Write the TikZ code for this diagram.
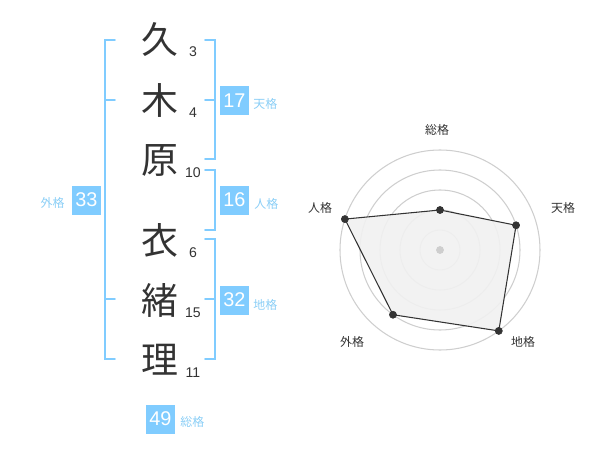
\documentclass[tikz,border=0pt]{standalone}
\usepackage{fontspec}
\setmainfont{Liberation Sans}
\newfontfamily\jpfont{Noto Sans CJK JP}
\usepackage{tkz-euclide}
\definecolor{BoxClr}{RGB}{128,204,255}
\definecolor{TagClr}{RGB}{138,206,246}
\definecolor{InkClr}{RGB}{51,51,51}
\definecolor{RingClr}{RGB}{206,206,206}
\definecolor{AreaClr}{RGB}{241,241,241}
\tikzset{
  kanji/.style={anchor=center,text=InkClr,inner sep=0pt,font=\jpfont\fontsize{21}{24}\selectfont},
  strokes/.style={anchor=center,text=InkClr,inner sep=0pt,font=\fontsize{8}{9}\selectfont},
  tag/.style={anchor=center,fill=BoxClr,text=white,inner sep=0pt,minimum size=.58cm,font=\fontsize{11.3}{12}\selectfont},
  tagname/.style={text=TagClr,inner sep=0pt,font=\jpfont\fontsize{6.8}{8}\selectfont},
  axisname/.style={anchor=center,text=InkClr,inner sep=0pt,font=\jpfont\fontsize{6.8}{8}\selectfont}
}

\begin{document}
\begin{tikzpicture}
\useasboundingbox (0,0) rectangle (12,9.4);
\tkzSetUpLine[line width=1.1pt,color=BoxClr]

% name and stroke counts
\tkzDefPoints{3.2/8.6/K1,3.2/7.4/K2,3.2/6.2/K3,3.2/4.6/K4,3.2/3.4/K5,3.2/2.2/K6}
\tkzDefPoints{3.86/8.36/N1,3.86/7.14/N2,3.86/5.94/N3,3.86/4.34/N4,3.86/3.14/N5,3.86/1.94/N6}

\tkzLabelPoint[kanji](K1){久}
\tkzLabelPoint[kanji](K2){木}
\tkzLabelPoint[kanji](K3){原}
\tkzLabelPoint[kanji](K4){衣}
\tkzLabelPoint[kanji](K5){緒}
\tkzLabelPoint[kanji](K6){理}

\tkzLabelPoint[strokes](N1){3}
\tkzLabelPoint[strokes](N2){4}
\tkzLabelPoint[strokes](N3){10}
\tkzLabelPoint[strokes](N4){6}
\tkzLabelPoint[strokes](N5){15}
\tkzLabelPoint[strokes](N6){11}

% brackets
\tkzDefPoints{2.3/8.6/A1,2.1/8.6/A2,2.1/2.22/A3,2.3/2.22/A4,2.1/7.4/A5,2.3/7.4/A6,2.1/3.42/A7,2.3/3.42/A8}
\tkzDefPoints{4.1/8.6/B1,4.3/8.6/B2,4.3/6.22/B3,4.1/6.22/B4,4.1/7.4/B5,4.3/7.4/B6}
\tkzDefPoints{4.1/6.0/C1,4.3/6.0/C2,4.3/4.8/C3,4.1/4.8/C4}
\tkzDefPoints{4.1/4.62/D1,4.3/4.62/D2,4.3/2.22/D3,4.1/2.22/D4,4.1/3.42/D5,4.3/3.42/D6}

\tkzDrawPolySeg(A1,A2,A3,A4)
\tkzDrawPolySeg(B1,B2,B3,B4)
\tkzDrawPolySeg(C1,C2,C3,C4)
\tkzDrawPolySeg(D1,D2,D3,D4)
\tkzDrawSegments(A5,A6 A7,A8 B5,B6 D5,D6)

% scores
\tkzDefPoints{4.69/7.39/T1,4.69/5.4/T2,4.69/3.4/T3,1.73/5.4/T4,3.21/1.02/T5}
\tkzDefPoints{5.06/7.32/W1,5.08/5.32/W2,5.06/3.3/W3,1.3/5.34/W4,3.6/0.96/W5}

\tkzLabelPoint[tag](T1){17}
\tkzLabelPoint[tag](T2){16}
\tkzLabelPoint[tag](T3){32}
\tkzLabelPoint[tag](T4){33}
\tkzLabelPoint[tag](T5){49}

\tkzLabelPoint[tagname,anchor=west](W1){天格}
\tkzLabelPoint[tagname,anchor=west](W2){人格}
\tkzLabelPoint[tagname,anchor=west](W3){地格}
\tkzLabelPoint[tagname,anchor=east](W4){外格}
\tkzLabelPoint[tagname,anchor=west](W5){総格}

% radar
\tkzDefPoint(8.8,4.4){O}
\tkzDefShiftPoint[O](90:0.4){R1}
\tkzDefShiftPoint[O](90:0.8){R2}
\tkzDefShiftPoint[O](90:1.2){R3}
\tkzDefShiftPoint[O](90:1.6){R4}
\tkzDefShiftPoint[O](90:2.0){R5}

\tkzDefShiftPoint[O](90:0.8){So}
\tkzDefShiftPoint[O](18:1.6){Te}
\tkzDefShiftPoint[O](-54:2.0){Ch}
\tkzDefShiftPoint[O](-126:1.6){Ga}
\tkzDefShiftPoint[O](162:2.0){Ji}

\tkzDrawCircles[color=RingClr,line width=.6pt](O,R1 O,R2 O,R3 O,R4 O,R5)

\tkzFillPolygon[fill=AreaClr,fill opacity=.9](So,Te,Ch,Ga,Ji)
\tkzDrawPolygon[color=InkClr,line width=.6pt](So,Te,Ch,Ga,Ji)

\tkzDrawPoint[size=4,color=RingClr,fill=RingClr](O)
\tkzDrawPoints[size=4,color=InkClr,fill=InkClr](So,Te,Ch,Ga,Ji)

\tkzDefPoints{8.74/6.8/LSo,11.26/5.24/LTe,10.46/2.56/LCh,7.04/2.56/LGa,6.4/5.24/LJi}

\tkzLabelPoint[axisname](LSo){総格}
\tkzLabelPoint[axisname](LTe){天格}
\tkzLabelPoint[axisname](LCh){地格}
\tkzLabelPoint[axisname](LGa){外格}
\tkzLabelPoint[axisname](LJi){人格}

\end{tikzpicture}
\end{document}
